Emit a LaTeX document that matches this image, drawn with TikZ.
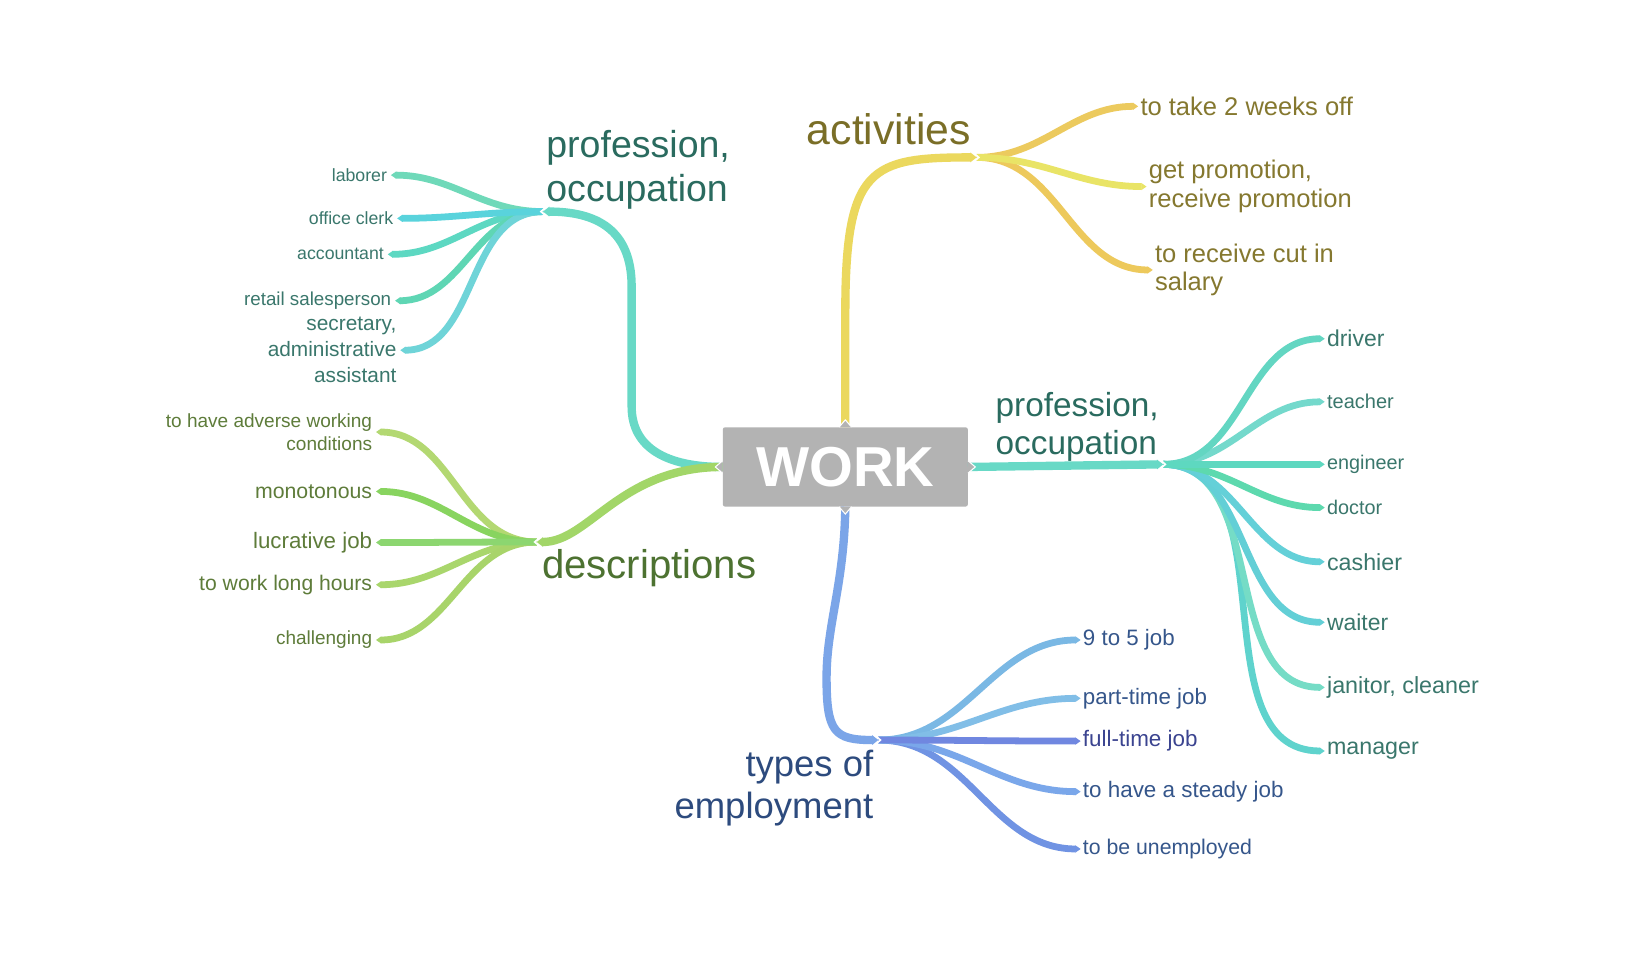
\documentclass[tikz,border=0pt]{standalone}
\usepackage{fontspec}
\setmainfont{Liberation Sans}
\usetikzlibrary{arrows.meta}
\definecolor{workgray}{HTML}{B3B3B3}
% line colours
\definecolor{tealA}{HTML}{68D9C6}
\definecolor{tLab}{HTML}{6FD9B9}
\definecolor{tCle}{HTML}{59D3DC}
\definecolor{tAcc}{HTML}{5DD8C2}
\definecolor{tRet}{HTML}{5FD6B4}
\definecolor{tSec}{HTML}{6FD4D8}
\definecolor{grnA}{HTML}{A2D668}
\definecolor{gAdv}{HTML}{B3D872}
\definecolor{gMon}{HTML}{88D45F}
\definecolor{gLuc}{HTML}{8CD670}
\definecolor{gLon}{HTML}{A9D66C}
\definecolor{gCha}{HTML}{A8D46A}
\definecolor{yelA}{HTML}{EBD85E}
\definecolor{yWee}{HTML}{ECCA5E}
\definecolor{yPro}{HTML}{E9E466}
\definecolor{yCut}{HTML}{EDC95C}
\definecolor{rDri}{HTML}{63D6C2}
\definecolor{rTea}{HTML}{74D9CC}
\definecolor{rEng}{HTML}{5ED8C0}
\definecolor{rDoc}{HTML}{5DD9AE}
\definecolor{rCas}{HTML}{64D0D8}
\definecolor{rWai}{HTML}{63CFD6}
\definecolor{rJan}{HTML}{75DCC6}
\definecolor{rMan}{HTML}{5FD3CD}
\definecolor{bluA}{HTML}{7BA5E8}
\definecolor{bNin}{HTML}{7AB8E4}
\definecolor{bPar}{HTML}{81BEE7}
\definecolor{bFul}{HTML}{7087E0}
\definecolor{bSte}{HTML}{7AA7EA}
\definecolor{bUne}{HTML}{7093E3}
% text colours
\definecolor{tealMainTxt}{HTML}{2A6B5F}
\definecolor{tealTxt}{HTML}{3A776C}
\definecolor{grnMainTxt}{HTML}{4D7231}
\definecolor{grnTxt}{HTML}{5E7C3A}
\definecolor{yelMainTxt}{HTML}{7A6E27}
\definecolor{yelTxt}{HTML}{85782F}
\definecolor{bluMainTxt}{HTML}{2D4B7E}
\definecolor{bluTxt}{HTML}{35568B}
\definecolor{bluFulTxt}{HTML}{3B4490}
\begin{document}
\begin{tikzpicture}[x=1pt,y=-1pt,
  leafL/.style={anchor=east, align=right, inner sep=3.5pt},
  leafR/.style={anchor=west, align=left, inner sep=2pt},
  topic/.style={inner sep=0pt},
  brmain/.style={line width=8pt, -{Triangle[length=6pt,width=9pt]}},
  brleaf/.style={line width=6.5pt, -{Triangle[length=5pt,width=6.5pt]}},
  chev/.style={white, line width=1.6pt},
  notch/.style={fill=workgray},
  notchline/.style={white, line width=1pt},
]
\fill[white] (0,0) rectangle (1560,915);
\useasboundingbox (0,0) rectangle (1560,915);

% ---------- central node ----------
\node[fill=workgray, rounded corners=2pt, minimum width=235pt, minimum height=76pt,
      inner sep=0pt, text=white, font=\fontsize{54}{60}\selectfont\bfseries] (work) at (811,448) {WORK};

% ---------- junctions ----------
\coordinate (jPL) at (521,203);
\coordinate (jDe) at (515,520);
\coordinate (jAc) at (937,151);
\coordinate (jPR) at (1116,445.5);
\coordinate (jTy) at (842.7,710);

% ---------- topic labels ----------
\node[topic, anchor=north west, align=left, text=tealMainTxt, font=\fontsize{36}{42}\selectfont] (profL) at (524,125) {profession,\\occupation};
\node[topic, anchor=base west, text=yelMainTxt, font=\fontsize{41}{48}\selectfont] (activities) at (774,139) {activities};
\node[topic, anchor=base west, text=grnMainTxt, font=\fontsize{38.5}{44}\selectfont] (descriptions) at (520,555) {descriptions};
\node[topic, anchor=north west, align=left, text=tealMainTxt, font=\fontsize{32}{37}\selectfont] (profR) at (955,376) {profession,\\occupation};
\node[topic, anchor=north east, align=right, text=bluMainTxt, font=\fontsize{35}{40}\selectfont] (types) at (838,719.6) {types of\\employment};

% ---------- leaves: profession (left) ----------
\node[leafL, text=tealTxt, font=\fontsize{17}{20}\selectfont] (laborer) at (375,168) {laborer};
\node[leafL, text=tealTxt, font=\fontsize{17}{20}\selectfont] (clerk) at (381,209.5) {office clerk};
\node[leafL, text=tealTxt, font=\fontsize{17}{20}\selectfont] (accountant) at (372,244) {accountant};
\node[leafL, text=tealTxt, font=\fontsize{18}{21}\selectfont] (retail) at (379,288.5) {retail salesperson};
\node[leafL, text=tealTxt, font=\fontsize{20}{25}\selectfont] (secretary) at (384,336) {secretary,\\administrative\\assistant};

% ---------- leaves: descriptions ----------
\node[leafL, text=grnTxt, font=\fontsize{18.25}{21.5}\selectfont] (adverse) at (360.7,414.5) {to have adverse working\\conditions};
\node[leafL, text=grnTxt, font=\fontsize{20.4}{24}\selectfont] (monotonous) at (360.7,471.5) {monotonous};
\node[leafL, text=grnTxt, font=\fontsize{21.4}{25}\selectfont] (lucrative) at (360.7,520.5) {lucrative job};
\node[leafL, text=grnTxt, font=\fontsize{20.3}{24}\selectfont] (longhours) at (360.7,561) {to work long hours};
\node[leafL, text=grnTxt, font=\fontsize{18.2}{22}\selectfont] (challenging) at (360.7,614) {challenging};

% ---------- leaves: activities ----------
\node[leafR, text=yelTxt, font=\fontsize{24.5}{28}\selectfont] (weeks) at (1092,102) {to take 2 weeks off};
\node[leafR, text=yelTxt, font=\fontsize{24.5}{27.5}\selectfont] (promotion) at (1100,179) {get promotion,\\receive promotion};
\node[leafR, text=yelTxt, font=\fontsize{24.5}{27.5}\selectfont] (cut) at (1106,259) {to receive cut in\\salary};

% ---------- leaves: profession (right) ----------
\node[leafR, text=tealTxt, font=\fontsize{22}{26}\selectfont] (driver) at (1271,325) {driver};
\node[leafR, text=tealTxt, font=\fontsize{19.2}{23}\selectfont] (teacher) at (1271,385.5) {teacher};
\node[leafR, text=tealTxt, font=\fontsize{19}{23}\selectfont] (engineer) at (1271,445.5) {engineer};
\node[leafR, text=tealTxt, font=\fontsize{19}{23}\selectfont] (doctor) at (1271,487) {doctor};
\node[leafR, text=tealTxt, font=\fontsize{22.3}{26}\selectfont] (cashier) at (1271,539) {cashier};
\node[leafR, text=tealTxt, font=\fontsize{22}{26}\selectfont] (waiter) at (1271,597) {waiter};
\node[leafR, text=tealTxt, font=\fontsize{22.4}{26}\selectfont] (janitor) at (1271,659.5) {janitor, cleaner};
\node[leafR, text=tealTxt, font=\fontsize{22.3}{26}\selectfont] (manager) at (1271,720.5) {manager};

% ---------- leaves: types of employment ----------
\node[leafR, text=bluTxt, font=\fontsize{21.4}{25}\selectfont] (ninefive) at (1036.8,614) {9 to 5 job};
\node[leafR, text=bluTxt, font=\fontsize{21.4}{25}\selectfont] (parttime) at (1036.8,670) {part-time job};
\node[leafR, text=bluFulTxt, font=\fontsize{21.5}{25}\selectfont] (fulltime) at (1036.8,711) {full-time job};
\node[leafR, text=bluTxt, font=\fontsize{21.5}{25}\selectfont] (steady) at (1036.8,759.5) {to have a steady job};
\node[leafR, text=bluTxt, font=\fontsize{20.4}{24}\selectfont] (unemployed) at (1036.8,814.5) {to be unemployed};

% ---------- leaf connectors ----------
\draw[brleaf, tLab] (jPL) to[out=180,in=0] (laborer.east);
\draw[brleaf, tAcc] (jPL) to[out=180,in=0] (accountant.east);
\draw[brleaf, tRet] (jPL) to[out=180,in=0] (retail.east);
\draw[brleaf, tSec] (jPL) to[out=180,in=0] (secretary.east);
\draw[brleaf, tCle] (jPL) to[out=180,in=0] (clerk.east);

\draw[brleaf, gAdv] (jDe) to[out=180,in=0] (adverse.east);
\draw[brleaf, gMon] (jDe) to[out=180,in=0] (monotonous.east);
\draw[brleaf, gLon] (jDe) to[out=180,in=0] (longhours.east);
\draw[brleaf, gCha] (jDe) to[out=180,in=0] (challenging.east);
\draw[brleaf, gLuc] (jDe) to[out=180,in=0] (lucrative.east);

\draw[brleaf, yWee] (jAc) to[out=0,in=180] (weeks.west);
\draw[brleaf, yCut] (jAc) to[out=0,in=180] (cut.west);
\draw[brleaf, yPro] (jAc) to[out=0,in=180] (promotion.west);

\draw[brleaf, rMan] (jPR) to[out=0,in=180] (manager.west);
\draw[brleaf, rJan] (jPR) to[out=0,in=180] (janitor.west);
\draw[brleaf, rWai] (jPR) to[out=0,in=180] (waiter.west);
\draw[brleaf, rCas] (jPR) to[out=0,in=180] (cashier.west);
\draw[brleaf, rDoc] (jPR) to[out=0,in=180] (doctor.west);
\draw[brleaf, rTea] (jPR) to[out=0,in=180] (teacher.west);
\draw[brleaf, rDri] (jPR) to[out=0,in=180] (driver.west);
\draw[brleaf, rEng] (jPR) to[out=0,in=180] (engineer.west);

\draw[brleaf, bUne] (jTy) to[out=0,in=180] (unemployed.west);
\draw[brleaf, bSte] (jTy) to[out=0,in=180] (steady.west);
\draw[brleaf, bNin] (jTy) to[out=0,in=180] (ninefive.west);
\draw[brleaf, bPar] (jTy) to[out=0,in=180] (parttime.west);
\draw[brleaf, bFul] (jTy) to[out=0,in=180] (fulltime.west);

% ---------- junction chevrons ----------
\draw[chev] ([shift={(6,-7)}]jPL) -- ([shift={(-2,0)}]jPL) -- ([shift={(6,7)}]jPL);
\draw[chev] ([shift={(6,-7)}]jDe) -- ([shift={(-2,0)}]jDe) -- ([shift={(6,7)}]jDe);
\draw[chev] ([shift={(-6,-7)}]jAc) -- ([shift={(2,0)}]jAc) -- ([shift={(-6,7)}]jAc);
\draw[chev] ([shift={(-6,-7)}]jPR) -- ([shift={(2,0)}]jPR) -- ([shift={(-6,7)}]jPR);
\draw[chev] ([shift={(-6,-7)}]jTy) -- ([shift={(2,0)}]jTy) -- ([shift={(-6,7)}]jTy);

% ---------- main branches ----------
\draw[brmain, tealA] (work.west) .. controls (640,448) and (606,430) .. (606,390) -- (606,275) .. controls (606,220) and (572,203) .. (jPL);
\draw[brmain, grnA] (work.west) .. controls (595,448) and (565,520) .. (jDe);
\draw[brmain, yelA] (work.north) -- (811,300) .. controls (811,160) and (835,151) .. (jAc);
\draw[brmain, tealA] (work.east) -- (jPR);
\draw[brmain, bluA] (work.south) .. controls (810,560) and (793,600) .. (793,650) .. controls (793,702) and (800,710) .. (jTy);

% ---------- notches of the central node ----------
\fill[notch] ([yshift=6pt]work.west) -- ([xshift=-7pt]work.west) -- ([yshift=-6pt]work.west) -- cycle;
\draw[notchline] ([yshift=6pt]work.west) -- ([xshift=-7pt]work.west) -- ([yshift=-6pt]work.west);
\fill[notch] ([yshift=6pt]work.east) -- ([xshift=7pt]work.east) -- ([yshift=-6pt]work.east) -- cycle;
\draw[notchline] ([yshift=6pt]work.east) -- ([xshift=7pt]work.east) -- ([yshift=-6pt]work.east);
\fill[notch] ([xshift=-6pt]work.north) -- ([yshift=7pt]work.north) -- ([xshift=6pt]work.north) -- cycle;
\draw[notchline] ([xshift=-6pt]work.north) -- ([yshift=7pt]work.north) -- ([xshift=6pt]work.north);
\fill[notch] ([xshift=-6pt]work.south) -- ([yshift=-7pt]work.south) -- ([xshift=6pt]work.south) -- cycle;
\draw[notchline] ([xshift=-6pt]work.south) -- ([yshift=-7pt]work.south) -- ([xshift=6pt]work.south);
\end{tikzpicture}
\end{document}
